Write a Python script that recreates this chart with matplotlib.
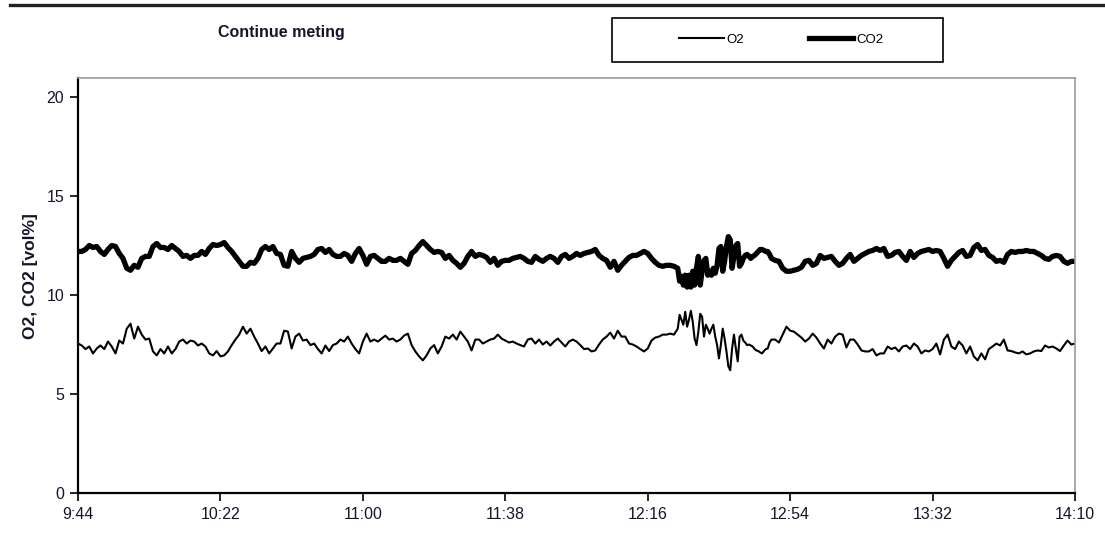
import numpy as np
import matplotlib
matplotlib.use("Agg")
import matplotlib.pyplot as plt
from matplotlib.lines import Line2D
from matplotlib.patches import Rectangle

plt.rcParams['font.family'] = ['Liberation Sans', 'DejaVu Sans']

# sample times in minutes after 9:44 (finer sampling in the unstable part)
minutes = np.concatenate([np.arange(0, 160), np.arange(160, 185.5, 0.5), np.arange(186, 267)])

co2 = [
    12.2, 12.2, 12.3, 12.5, 12.4, 12.45, 12.2, 12.05, 12.3, 12.5,
    12.45, 12.1, 11.85, 11.35, 11.25, 11.5, 11.4, 11.85, 11.95, 11.95,
    12.45, 12.6, 12.4, 12.4, 12.3, 12.5, 12.35, 12.2, 11.95, 12.0,
    11.85, 12.0, 12.0, 12.2, 12.05, 12.35, 12.55, 12.5, 12.55, 12.65,
    12.4, 12.2, 11.95, 11.7, 11.45, 11.45, 11.65, 11.6, 11.85, 12.3,
    12.45, 12.3, 12.45, 12.1,
    12.05, 11.5, 11.45, 12.2, 11.85, 11.65, 11.85, 11.9, 11.95, 12.05,
    12.3, 12.35, 12.15, 12.3, 12.05, 11.95, 11.95, 12.1, 12.0, 11.7,
    12.1, 12.35, 12.0, 11.55, 11.95, 12.0, 11.85, 11.7, 11.7, 11.85,
    11.75, 11.75, 11.85, 11.7, 11.55, 12.1, 12.25, 12.5, 12.7, 12.5,
    12.3, 12.15, 12.2, 12.15, 11.85, 12.0, 11.75, 11.6, 11.4, 11.6,
    11.95, 12.2, 11.95,
    12.05, 12.0, 11.9, 11.65, 11.85, 11.5, 11.7, 11.75, 11.75, 11.85,
    11.9, 11.95, 11.85, 11.7, 11.65, 11.95, 11.8, 11.7, 11.85, 11.95,
    11.85, 11.65, 11.95, 12.05, 11.85, 11.95, 12.1, 12.0, 12.1, 12.15,
    12.2, 12.3, 12.0, 11.85, 11.75, 11.4, 11.7, 11.25, 11.5, 11.7,
    11.9, 12.0, 12.0, 12.1, 12.2, 12.1, 11.85, 11.65, 11.5, 11.45,
    11.5, 11.5, 11.45,
    11.35, 10.7, 10.95, 10.5, 11.0, 10.4, 11.0, 10.4, 11.2, 10.5,
    11.35, 11.95, 10.5, 11.2, 11.75, 11.85, 11.0, 11.2, 11.0, 11.35,
    11.1, 11.5, 12.35, 12.45, 11.2, 11.7, 12.45, 12.95, 12.8, 11.35,
    11.95, 12.5, 12.6, 11.45, 11.6, 11.85, 12.0, 12.05, 11.95, 11.85,
    11.95, 12.0, 12.1, 12.2, 12.3, 12.3, 12.25, 12.2, 12.2, 12.05,
    11.85,
    11.75, 11.7, 11.35, 11.2, 11.2, 11.25, 11.3, 11.4, 11.7, 11.75,
    11.5, 11.6, 12.0, 11.85, 11.9, 11.95, 11.7, 11.5, 11.6, 11.85,
    12.05, 11.7, 11.85, 12.0, 12.1, 12.2, 12.25, 12.35,
    12.25, 12.35, 11.95, 12.0, 12.15, 12.2, 11.95, 11.75, 12.2, 11.9,
    12.1, 12.2, 12.25, 12.3, 12.2, 12.25, 12.2, 11.85, 11.45, 11.75,
    11.95, 12.15, 12.25, 11.95, 12.0, 12.4, 12.55, 12.25, 12.3, 12.0,
    11.9, 11.7, 11.75, 11.65, 12.05, 12.2, 12.15, 12.2, 12.2, 12.25,
    12.2, 12.2, 12.1, 12.0, 11.85, 11.8, 11.95, 12.0, 11.95, 11.7,
    11.6, 11.7, 11.7,
]

o2 = [
    7.55, 7.45, 7.27, 7.4, 7.05, 7.3, 7.45, 7.27, 7.65, 7.4,
    7.05, 7.7, 7.55, 8.3, 8.55, 7.8, 8.4, 8.0, 7.75, 7.8,
    7.15, 6.95, 7.27, 7.05, 7.4, 7.05, 7.27, 7.65, 7.75, 7.55,
    7.7, 7.65, 7.45, 7.55, 7.4, 7.05, 6.95, 7.17, 6.9, 6.95,
    7.15, 7.47, 7.75, 8.0, 8.4, 8.05, 8.3, 7.9, 7.55, 7.17,
    7.4, 7.05, 7.3, 7.55,
    7.55, 8.2, 8.15, 7.3, 7.9, 8.05, 7.7, 7.75, 7.47, 7.55,
    7.27, 7.05, 7.45, 7.17, 7.47, 7.55, 7.75, 7.65, 7.9, 7.55,
    7.27, 7.05, 7.65, 8.05, 7.65, 7.75, 7.65, 7.8, 7.95, 7.75,
    7.8, 7.65, 7.75, 7.95, 8.05, 7.47, 7.15, 6.9, 6.7, 6.95,
    7.3, 7.47, 7.05, 7.4, 7.9, 7.8, 8.0, 7.75, 8.15, 7.9,
    7.65, 7.2, 7.75,
    7.75, 7.55, 7.65, 7.75, 7.8, 8.0, 7.8, 7.7, 7.6, 7.65,
    7.55, 7.47, 7.4, 7.75, 7.8, 7.55, 7.75, 7.5, 7.65, 7.45,
    7.65, 7.8, 7.6, 7.4, 7.65, 7.75, 7.65, 7.47, 7.27, 7.3,
    7.15, 7.2, 7.5, 7.75, 7.9, 8.1, 7.8, 8.2, 7.9, 7.9,
    7.55, 7.5, 7.4, 7.27, 7.15, 7.3, 7.7, 7.85, 7.9, 8.0,
    8.0, 8.05, 8.0,
    8.3, 9.0, 8.75, 8.5, 9.15, 8.4, 8.75, 9.2, 8.65, 7.8,
    7.47, 8.15, 9.05, 8.9, 7.9, 8.5, 8.3, 8.05, 8.3, 8.5,
    7.9, 7.47, 6.8, 7.47, 8.3, 7.8, 7.15, 6.4, 6.2, 7.3,
    8.0, 7.3, 6.65, 7.9, 8.0, 7.7, 7.6, 7.47, 7.5, 7.45,
    7.4, 7.27, 7.2, 7.17, 7.1, 7.05, 7.17, 7.27, 7.3, 7.6,
    7.75,
    7.75, 7.6, 8.0, 8.4, 8.2, 8.15, 8.0, 7.85, 7.65, 7.8,
    8.05, 7.85, 7.55, 7.3, 7.75, 7.55, 7.9, 8.05, 8.0, 7.35,
    7.75, 7.75, 7.5, 7.2, 7.15, 7.15, 7.27, 6.95,
    7.05, 7.05, 7.4, 7.27, 7.35, 7.15, 7.4, 7.45, 7.27, 7.55,
    7.4, 7.05, 7.2, 7.15, 7.27, 7.55, 7.0, 7.75, 8.0, 7.4,
    7.27, 7.65, 7.45, 7.05, 7.4, 6.9, 6.7, 7.05, 6.75, 7.27,
    7.4, 7.55, 7.45, 7.75, 7.2, 7.17, 7.1, 7.05, 7.15, 7.0,
    7.05, 7.15, 7.2, 7.17, 7.45, 7.35, 7.4, 7.3, 7.17, 7.45,
    7.7, 7.5, 7.55,
]

tick_minutes = [0, 38, 76, 114, 152, 190, 228, 266]
tick_labels = ['9:44', '10:22', '11:00', '11:38', '12:16', '12:54', '13:32', '14:10']
y_ticks = [0, 5, 10, 15, 20]

TEXT = '#15152a'

fig = plt.figure(figsize=(11.05, 5.39), dpi=100)
ax = fig.add_axes([0.0706, 0.0853, 0.9023, 0.770])

ax.plot(minutes, o2, color='black', linewidth=1.5, solid_joinstyle='round', label='O2')
ax.plot(minutes, co2, color='black', linewidth=3.8, solid_joinstyle='round', label='CO2')

ax.set_xlim(0, 266)
ax.set_ylim(0, 20.96)
ax.set_xticks(tick_minutes)
ax.set_xticklabels(tick_labels)
ax.set_yticks(y_ticks)
ax.tick_params(axis='both', direction='out', length=6, width=1.2, colors='black',
               labelsize=11.5, labelcolor=TEXT, pad=4)

for side in ['left', 'bottom']:
    ax.spines[side].set_color('black')
    ax.spines[side].set_linewidth(1.6)
for side in ['top', 'right']:
    ax.spines[side].set_color('#9a9a9a')
    ax.spines[side].set_linewidth(1.2)

fig.text(30 / 1105, 1 - 276 / 539, 'O2, CO2 [vol%]', rotation=90, ha='center', va='center',
         fontsize=12.5, fontweight='bold', color=TEXT)
fig.text(281 / 1105, 1 - 33 / 539, 'Continue meting', ha='center', va='center',
         fontsize=11.5, fontweight='bold', color=TEXT)

# legend box
fig.add_artist(Rectangle((612 / 1105, 1 - 62 / 539), 331 / 1105, 44 / 539,
                         transform=fig.transFigure, fill=False, edgecolor='black', linewidth=1.2))
fig.legend(loc='center', bbox_to_anchor=(781 / 1105, 1 - 40 / 539), ncol=2, frameon=False,
           fontsize=9.5, handlelength=3.4, handletextpad=0.2, columnspacing=4.9)

# rule across the top of the figure
fig.add_artist(Line2D([10 / 1105, 1.0], [1 - 5 / 539, 1 - 5 / 539], transform=fig.transFigure,
                      color='#222222', linewidth=2.4))

fig.savefig('out.png', dpi=100)
